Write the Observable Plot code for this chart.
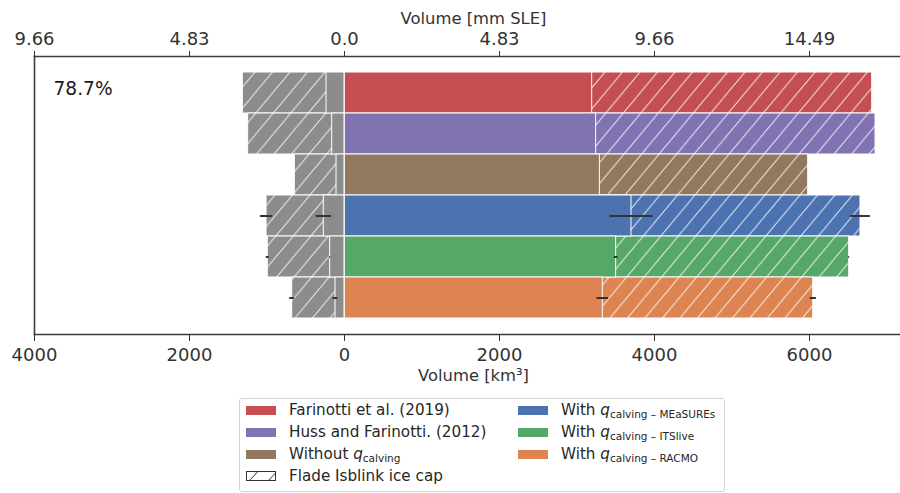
<!DOCTYPE html>
<html><head><meta charset="utf-8">
<script src="https://cdn.jsdelivr.net/npm/d3@7"></script>
<script src="https://cdn.jsdelivr.net/npm/@observablehq/plot@0.6"></script>
<style>
html,body{margin:0;padding:0;overflow:hidden;background:#fff;width:900px;height:493px}
body{font-family:"DejaVu Sans",sans-serif;position:relative}
#chart{position:absolute;left:0;top:0;width:912px}
#chart svg{max-width:none !important}
#legend{position:absolute;left:239px;top:398px;width:484px;height:92px;border:1px solid #d4d4d4;border-radius:3px;font-size:15.2px;color:#262626;background:#fff}
.item{position:absolute;display:flex;align-items:center;height:22px;white-space:nowrap}
.sw{display:inline-block;width:30px;height:9px;margin-right:13px;flex:none}
.item i{font-style:italic}
.item sub{font-size:10.5px;vertical-align:-3px;line-height:0}
</style></head><body>
<div id="chart"></div>
<div id="legend"></div>
<script>
// ---- data ----
const series = ["Farinotti et al. (2019)", "Huss and Farinotti. (2012)", "Without q calving",
  "With q calving – MEaSUREs", "With q calving – ITSlive", "With q calving – RACMO"];
const colors = ["#C44E52", "#8172B2", "#937860", "#4C72B0", "#55A868", "#DD8452"];
// right side (km³): solid part and total (hatched = Flade Isblink ice cap part)
const rightSolid = [3196, 3247, 3295, 3703, 3505, 3333];
const rightTotal = [6809, 6852, 5983, 6658, 6512, 6048];
// left side (km³, drawn leftwards)
const leftSolid = [232, 159, 103, 267, 185, 116];
const leftTotal = [1312, 1243, 641, 1006, 990, 675];
// error bar half-widths
const rightSolidErr = [0, 0, 0, 280, 25, 75];
const rightTotalErr = [0, 0, 0, 127, 6, 40];
const leftSolidErr = [0, 0, 0, 99, 6, 30];
const leftTotalErr = [0, 0, 0, 80, 20, 32];
const xTicks = [-4000, -2000, 0, 2000, 4000, 6000];
const bottomTickLabels = ["4000", "2000", "0", "2000", "4000", "6000"];
const topTickLabels = ["9.66", "4.83", "0.0", "4.83", "9.66", "14.49"];
const shareText = "78.7%";
const grayColor = "#8C8C8C";

const rows = series.map((s, i) => ({
  s, rs: rightSolid[i], rt: rightTotal[i], ls: -leftSolid[i], lt: -leftTotal[i],
  rse: rightSolidErr[i], rte: rightTotalErr[i], lse: leftSolidErr[i], lte: leftTotalErr[i]
}));
const withErr = rows.filter(d => d.rse > 0);

const ink = "#333333";
const plot = Plot.plot({
  width: 912, height: 392,
  marginLeft: 34, marginRight: 0, marginTop: 56, marginBottom: 58,
  style: {fontFamily: "DejaVu Sans", fontSize: "18px", color: ink, background: "transparent", maxWidth: "none"},
  x: {domain: [-4000, 7329]},
  y: {type: "band", domain: series, paddingInner: 0, paddingOuter: 0.32, axis: null},
  color: {domain: series, range: colors},
  marks: [
    // right side
    Plot.barX(rows, {y: "s", x1: 0, x2: "rt", fill: "s", stroke: "white", strokeWidth: 1}),
    Plot.barX(rows, {y: "s", x1: "rs", x2: "rt", fill: "url(#hatch)"}),
    Plot.barX(rows, {y: "s", x1: 0, x2: "rs", fill: "s", stroke: "white", strokeWidth: 1}),
    // left side
    Plot.barX(rows, {y: "s", x1: 0, x2: "lt", fill: grayColor, stroke: "white", strokeWidth: 1}),
    Plot.barX(rows, {y: "s", x1: "ls", x2: "lt", fill: "url(#hatch)"}),
    Plot.barX(rows, {y: "s", x1: 0, x2: "ls", fill: grayColor, stroke: "white", strokeWidth: 1}),
    // error bars
    Plot.ruleY(withErr, {y: "s", x1: d => d.rs - d.rse, x2: d => d.rs + d.rse, stroke: ink, strokeWidth: 2}),
    Plot.ruleY(withErr, {y: "s", x1: d => d.rt - d.rte, x2: d => d.rt + d.rte, stroke: ink, strokeWidth: 2}),
    Plot.ruleY(withErr, {y: "s", x1: d => d.ls - d.lse, x2: d => d.ls + d.lse, stroke: ink, strokeWidth: 2}),
    Plot.ruleY(withErr, {y: "s", x1: d => d.lt - d.lte, x2: d => d.lt + d.lte, stroke: ink, strokeWidth: 2}),
    // frame (right side runs off the picture)
    Plot.frame({anchor: "top", stroke: "#3c3c3c", strokeWidth: 1.6}),
    Plot.frame({anchor: "bottom", stroke: "#3c3c3c", strokeWidth: 1.6}),
    Plot.frame({anchor: "left", stroke: "#3c3c3c", strokeWidth: 1.6}),
    // axes
    Plot.axisX({anchor: "bottom", ticks: xTicks, tickFormat: d => bottomTickLabels[xTicks.indexOf(d)],
      tickSize: 7, tickPadding: 7, label: null, fontSize: 18}),
    Plot.axisX({anchor: "top", ticks: xTicks, tickFormat: d => topTickLabels[xTicks.indexOf(d)],
      tickSize: 6, tickPadding: 6, label: null, fontSize: 18}),
    Plot.text(["Volume [mm SLE]"], {frameAnchor: "top", dy: -33, lineAnchor: "bottom", fontSize: 16.4, fill: ink}),
    Plot.text(["Volume [km³]"], {frameAnchor: "bottom", dy: 46, lineAnchor: "bottom", fontSize: 16.4, fill: ink}),
    Plot.text([shareText], {frameAnchor: "top-left", dx: 19, dy: 38, textAnchor: "start", lineAnchor: "bottom", fontSize: 18.6, fill: "#1a1a1a"})
  ]
});
plot.style.maxWidth = "none";
document.getElementById("chart").appendChild(plot);

// hatch pattern (white diagonal "/" lines)
const svg = d3.select(plot.tagName.toLowerCase() === "svg" ? plot : plot.querySelector("svg"));
const defs = svg.insert("defs", ":first-child");
const hw = 17.5, hh = 21;
function addHatch(id, color, w, h, sw) {
  defs.append("pattern").attr("id", id).attr("patternUnits", "userSpaceOnUse")
    .attr("width", w).attr("height", h)
    .append("path")
    .attr("d", `M0,${h} L${w},0 M${-w / 4},${h / 4} L${w / 4},${-h / 4} M${w * 3 / 4},${h * 5 / 4} L${w * 5 / 4},${h * 3 / 4}`)
    .attr("stroke", color).attr("stroke-width", sw).attr("fill", "none");
}
addHatch("hatch", "rgba(255,255,255,0.8)", hw, hh, 1.1);

// legend
const legend = document.getElementById("legend");
const labelsHtml = [
  "Farinotti et al. (2019)",
  "Huss and Farinotti. (2012)",
  "Without <i>q</i><sub>calving</sub>",
  "With <i>q</i><sub>calving – MEaSUREs</sub>",
  "With <i>q</i><sub>calving – ITSlive</sub>",
  "With <i>q</i><sub>calving – RACMO</sub>"
];
const pos = [[6, 0], [6, 22], [6, 44], [278, 0], [278, 22], [278, 44]];
series.forEach((s, i) => {
  const div = document.createElement("div");
  div.className = "item";
  div.style.left = pos[i][0] + "px";
  div.style.top = pos[i][1] + "px";
  div.innerHTML = `<span class="sw" style="background:${colors[i]}"></span><span>${labelsHtml[i]}</span>`;
  legend.appendChild(div);
});
const fl = document.createElement("div");
fl.className = "item";
fl.style.left = "6px"; fl.style.top = "66px";
fl.innerHTML = `<svg class="sw" width="30" height="10" viewBox="0 0 30 10" style="height:10px;overflow:visible">
  <rect x="0.5" y="0.5" width="29" height="9" fill="white" stroke="#333" stroke-width="1"/>
  <path d="M3,10 L12,0.5 M22,10 L29.5,2" stroke="#333" stroke-width="1" fill="none"/></svg><span>Flade Isblink ice cap</span>`;
legend.appendChild(fl);
</script>
</body></html>
